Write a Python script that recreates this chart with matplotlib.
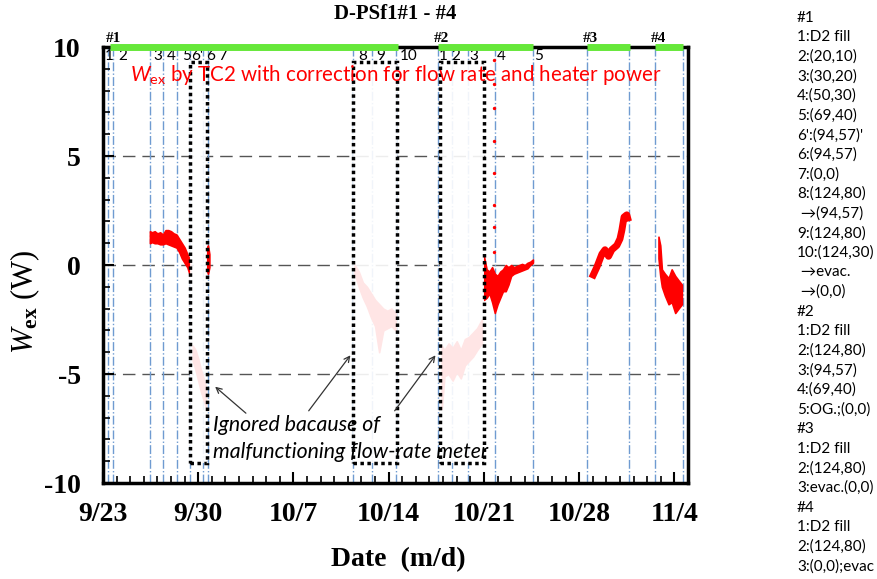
import numpy as np
import matplotlib as mpl
import matplotlib.pyplot as plt
import matplotlib.patches as patches
from matplotlib.ticker import MultipleLocator

plt.rcParams['mathtext.fontset'] = 'custom'
plt.rcParams['mathtext.rm'] = 'Lato'
plt.rcParams['mathtext.it'] = 'Lato:italic'
plt.rcParams['mathtext.cal'] = 'Liberation Serif:italic'
plt.rcParams['mathtext.bf'] = 'Liberation Serif:bold'
plt.rcParams['axes.unicode_minus'] = False

SERIF = 'Liberation Serif'
SANS = 'Lato'

# x axis = days since 9/23 0:00
date_ticks = [0, 7, 14, 21, 28, 35, 42]
date_labels = ['9/23', '9/30', '10/7', '10/14', '10/21', '10/28', '11/4']

# runs (green bar along the top)
run_names = ['#1', '#2', '#3', '#4']
run_start = [0.5, 24.6, 35.6, 40.6]
run_end = [21.7, 31.6, 38.7, 42.6]

# condition changes (blue dash-dot lines)
events1 = [0.37, 0.74, 3.46, 4.41, 5.44, 6.4, 7.35, 7.72, 18.38, 19.78, 21.54]
labels1 = ['1', '2', '3', '4', '5', "6'", '6', '7', '8', '9', '10']
events2 = [24.63, 25.66, 26.84, 28.82, 31.62]
labels2 = ['1', '2', '3', '4', '5']
events34 = [35.59, 38.68, 40.59, 42.65]

# where the step numbers are written (left edge, days)
label_pos1 = [0.15, 1.1, 3.68, 4.71, 5.81, 6.45, 7.55, 8.46, 18.75, 20.07, 21.84]
label_pos2 = [24.71, 25.59, 26.91, 28.97, 31.69]

# periods ignored (bad flow-rate meter)
ignored = [(6.4, 7.65), (18.38, 21.6), (24.78, 28.0)]

# Wex traces: (day, upper, lower) envelopes
segA_x = [3.45, 3.6, 3.8, 4.0, 4.2, 4.4, 4.6, 4.8, 5.0, 5.2, 5.4, 5.6, 5.8, 6.0, 6.2, 6.4]
segA_hi = [1.55, 1.5, 1.55, 1.45, 1.5, 1.4, 1.6, 1.6, 1.55, 1.45, 1.4, 1.2, 1.0, 0.8, 0.5, 0.2]
segA_lo = [1.0, 1.05, 1.0, 1.0, 0.95, 0.95, 1.0, 0.95, 0.9, 0.85, 0.8, 0.6, 0.3, 0.1, -0.1, -0.5]

segB_x = [7.62, 7.72, 7.82]
segB_hi = [0.8, 0.9, 0.5]
segB_lo = [-0.2, -0.4, -0.1]

pink1_x = [6.6, 6.8, 7.0, 7.2, 7.4, 7.55]
pink1_hi = [-3.7, -3.9, -4.3, -4.8, -5.2, -5.6]
pink1_lo = [-4.4, -4.8, -5.3, -5.8, -6.2, -6.5]

pink2_x = [18.5, 18.8, 19.1, 19.4, 19.7, 20.0, 20.3, 20.6, 20.9, 21.2, 21.5]
pink2_hi = [0.0, -0.3, -0.8, -1.0, -1.3, -1.6, -1.8, -2.0, -2.1, -2.0, -2.2]
pink2_lo = [-0.4, -1.0, -1.5, -1.9, -2.4, -2.8, -4.0, -3.0, -2.9, -2.8, -3.0]

pink3_x = [24.9, 25.1, 25.4, 25.7, 26.0, 26.3, 26.6, 26.9, 27.2, 27.5, 27.85]
pink3_hi = [-3.7, -3.9, -3.6, -3.8, -3.5, -3.9, -3.4, -3.3, -3.1, -2.9, -2.5]
pink3_lo = [-6.6, -5.1, -5.0, -5.3, -4.9, -5.2, -4.6, -4.4, -4.2, -3.9, -3.6]

segC_x = [28.0, 28.2, 28.4, 28.6, 28.8, 29.0, 29.2, 29.4, 29.6, 29.8, 30.0, 30.2, 30.4, 30.6, 30.8, 31.0, 31.2, 31.4, 31.6]
segC_hi = [0.4, -0.2, -0.3, -0.1, -0.4, -0.5, -0.3, -0.2, 0.0, -0.1, 0.0, -0.1, -0.05, 0.0, 0.05, 0.0, 0.1, 0.15, 0.25]
segC_lo = [-1.6, -1.5, -1.3, -1.7, -2.2, -1.8, -1.5, -1.2, -1.2, -0.9, -0.5, -0.4, -0.35, -0.3, -0.25, -0.2, -0.15, 0.0, 0.1]

dots_x = [28.75, 28.75, 28.75, 28.75, 28.75, 28.75, 28.75, 28.75]
dots_y = [9.4, 8.3, 7.2, 5.7, 4.2, 2.75, 1.74, 0.6]

segD_x = [35.93, 36.3, 36.67, 36.9, 37.16, 37.4, 37.77, 38.0, 38.14, 38.3, 38.5, 38.63]
segD_y = [-0.6, -0.1, 0.5, 0.7, 0.4, 0.7, 0.9, 1.2, 1.6, 2.2, 2.3, 2.0]

segE_x = [40.83, 40.96, 41.08, 41.3, 41.57, 41.8, 42.06, 42.3, 42.55]
segE_hi = [1.3, 0.9, -0.2, -0.4, -0.6, -0.2, -0.5, -0.7, -0.9]
segE_lo = [0.3, -0.5, -1.0, -1.4, -1.8, -1.7, -2.2, -2.0, -1.8]

notes = ['#1', '1:D2 fill', '2:(20,10)', '3:(30,20)', '4:(50,30)', '5:(69,40)',
         "6':(94,57)'", '6:(94,57)', '7:(0,0)', '8:(124,80)', ' \u2192(94,57)',
         '9:(124,80)', '10:(124,30)', ' \u2192evac.', ' \u2192(0,0)',
         '#2', '1:D2 fill', '2:(124,80)', '3:(94,57)', '4:(69,40)', '5:OG.;(0,0)',
         '#3', '1:D2 fill', '2:(124,80)', '3:evac.(0,0)',
         '#4', '1:D2 fill', '2:(124,80)', '3:(0,0);evac']

fig = plt.figure(figsize=(8.77, 5.79), dpi=100)
ax = fig.add_axes([0.1174, 0.1658, 0.6671, 0.753])

ax.set_xlim(0, 43)
ax.set_ylim(-10, 10)

for yv in [-5, 0, 5]:
    ax.axhline(yv, color='#555555', lw=1, dashes=(9, 5), zorder=1)

for ev in events1 + events2 + events34:
    ax.axvline(ev, color='#6f9bd1', lw=1, linestyle='-.', zorder=1.5)

red = '#ff0000'
for xs, hi, lo in [(segA_x, segA_hi, segA_lo), (segB_x, segB_hi, segB_lo),
                   (pink1_x, pink1_hi, pink1_lo), (pink2_x, pink2_hi, pink2_lo),
                   (pink3_x, pink3_hi, pink3_lo), (segC_x, segC_hi, segC_lo),
                   (segE_x, segE_hi, segE_lo)]:
    ax.fill_between(xs, lo, hi, color=red, lw=1.2, edgecolor=red, zorder=2)
ax.plot(segD_x, segD_y, color=red, lw=5, solid_capstyle='butt', zorder=2)
ax.scatter(dots_x, dots_y, s=2, color=red, zorder=2)

# faded boxes over the ignored periods
for x0, x1 in ignored:
    ax.add_patch(patches.Rectangle((x0, -9.1), x1 - x0, 18.4, facecolor='white',
                                   alpha=0.9, edgecolor='none', zorder=3))
    ax.add_patch(patches.Rectangle((x0, -9.1), x1 - x0, 18.4, facecolor='none',
                                   edgecolor='black', lw=2.5, linestyle=(0, (1, 1)), zorder=3.5))

# green run bars on the top spine
for s, e, name in zip(run_start, run_end, run_names):
    ax.plot([s, e], [10, 10], color='#66e83a', lw=5, solid_capstyle='butt',
            clip_on=False, zorder=6)
    ax.text(s + 0.25, 10.1, name, ha='center', va='bottom', fontsize=11,
            fontweight='bold', family=SERIF)

for xl, lab in zip(label_pos1 + label_pos2, labels1 + labels2):
    ax.text(xl, 9.93, lab, ha='left', va='top', fontsize=11, family=SANS, zorder=5)

ax.text(2.0, 8.72, r'$W_{\mathrm{ex}}$ by TC2 with correction for flow rate and heater power',
        color=red, fontsize=14.8, family=SANS, ha='left', va='center', zorder=5)

ax.text(8.1, -7.34, 'Ignored bacause of', fontsize=15.3, family=SANS, style='italic',
        ha='left', va='center', zorder=5)
ax.text(8.1, -8.58, 'malfunctioning flow-rate meter', fontsize=15.3, family=SANS,
        style='italic', ha='left', va='center', zorder=5)
for tail, head in [((10.66, -6.88), (8.09, -5.5)), ((15.0, -6.79), (18.31, -4.04)),
                   ((21.32, -6.79), (24.56, -4.04))]:
    ax.annotate('', xy=head, xytext=tail,
                arrowprops=dict(arrowstyle='->', color='#333333', lw=0.9), zorder=5)

ax.set_xticks(date_ticks)
ax.set_xticklabels(date_labels)
ax.xaxis.set_minor_locator(MultipleLocator(1))
ax.yaxis.set_major_locator(MultipleLocator(5))
ax.yaxis.set_minor_locator(MultipleLocator(1))
ax.tick_params(which='both', direction='in', top=False, right=False)
ax.tick_params(which='major', length=8, width=1.5)
ax.tick_params(which='minor', length=5, width=1.2)
ax.tick_params(axis='x', which='major', pad=14)
ax.tick_params(axis='y', which='major', pad=16)
for lab in ax.get_xticklabels() + ax.get_yticklabels():
    lab.set_family(SERIF)
    lab.set_fontweight('bold')
    lab.set_fontsize(20)

for sp in ax.spines.values():
    sp.set_linewidth(2.5)
    sp.set_color('black')

ax.set_ylabel(r'$\mathcal{W}_{\mathbf{ex}}$ (W)', family=SERIF, fontsize=22)
ax.yaxis.set_label_coords(-0.105, 0.415)
ax.set_xlabel('Date  (m/d)', family=SERIF, fontsize=20, fontweight='bold')
ax.xaxis.set_label_coords(0.504, -0.148)

fig.text(395 / 877, 1 - 14 / 579, 'D-PSf1#1 - #4', ha='center', va='center',
         family=SERIF, fontweight='bold', fontsize=15)

for i, line in enumerate(notes):
    fig.text(797 / 877, 1 - (17.5 + i * 19.6) / 579, line, ha='left', va='center',
             fontsize=11, family=SANS)

fig.savefig('out.png', dpi=100)
